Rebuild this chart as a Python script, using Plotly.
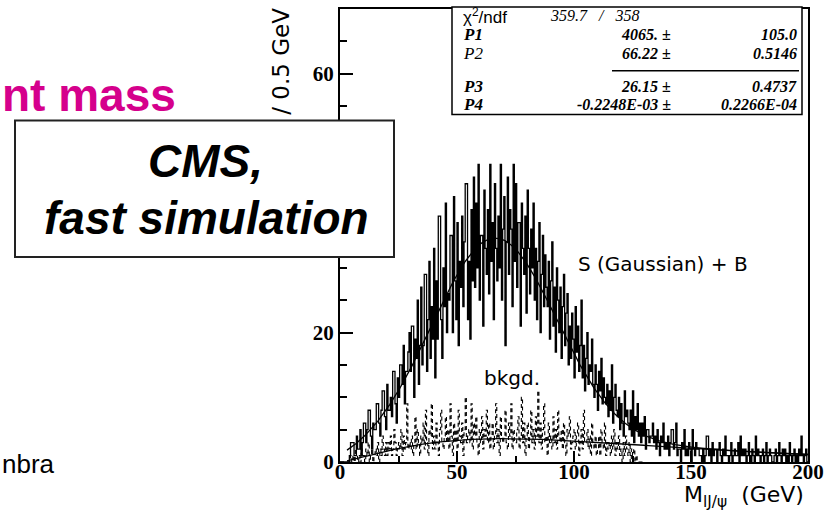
import numpy as np
import plotly.graph_objects as go

# ---------------- data ----------------
BIN_WIDTH = 0.5          # GeV per bin
X_RANGE = [0.0, 200.0]
Y_RANGE = [0.0, 70.0]

x_tick_vals = [0, 50, 100, 150, 200]
y_tick_vals = [0, 20, 60]   # the 40 mark sits under the caption box

# Signal (Gaussian) + background, entries per 0.5 GeV bin, 0 - 200 GeV
sb_counts = [
    0, 0, 0, 0, 0, 0, 0, 0, 1, 3,
    3, 3, 1, 1, 4, 2, 2, 5, 1, 3,
    6, 6, 3, 5, 8, 8, 4, 2, 6, 5,
    5, 9, 9, 6, 4, 8, 11, 11, 7, 5,
    12, 8, 8, 10, 7, 14, 14, 9, 6, 13,
    10, 15, 15, 12, 18, 9, 14, 14, 17, 20,
    14, 21, 21, 10, 19, 16, 25, 12, 18, 27,
    15, 18, 29, 29, 14, 22, 31, 16, 24, 19,
    33, 13, 28, 19, 38, 38, 22, 16, 30, 24,
    40, 20, 26, 25, 35, 35, 20, 41, 28, 22,
    37, 18, 31, 27, 38, 24, 34, 43, 43, 22,
    31, 19, 39, 28, 44, 27, 40, 30, 46, 25,
    35, 35, 21, 42, 33, 29, 39, 26, 46, 31,
    37, 22, 43, 33, 28, 38, 30, 46, 25, 36,
    41, 18, 34, 44, 29, 39, 36, 24, 46, 31,
    43, 27, 37, 37, 21, 40, 33, 29, 38, 23,
    42, 33, 26, 36, 30, 40, 25, 33, 22, 31,
    37, 20, 29, 35, 24, 32, 27, 24, 31, 19,
    28, 34, 21, 27, 17, 30, 25, 20, 27, 16,
    24, 29, 18, 23, 26, 15, 21, 16, 23, 19,
    13, 24, 17, 21, 14, 18, 25, 13, 18, 11,
    16, 20, 12, 15, 14, 19, 12, 10, 15, 12,
    8, 14, 11, 16, 9, 13, 10, 9, 12, 7,
    11, 8, 15, 6, 10, 12, 8, 7, 10, 5,
    9, 6, 4, 11, 7, 8, 6, 5, 8, 4,
    11, 3, 7, 5, 9, 4, 6, 3, 6, 4,
    7, 2, 5, 5, 3, 4, 4, 6, 3, 4,
    2, 5, 3, 1, 4, 3, 6, 2, 3, 2,
    4, 1, 3, 5, 5, 2, 3, 6, 1, 2,
    2, 0, 3, 2, 5, 1, 2, 1, 3, 2,
    0, 5, 2, 1, 3, 2, 2, 1, 1, 0,
    2, 0, 1, 4, 4, 1, 2, 0, 3, 1,
    2, 2, 0, 2, 3, 1, 0, 2, 1, 4,
    1, 1, 0, 1, 3, 0, 1, 2, 1, 1,
    3, 0, 4, 1, 2, 1, 2, 0, 1, 3,
    1, 0, 2, 1, 0, 4, 1, 2, 1, 0,
    1, 2, 0, 1, 3, 0, 1, 2, 1, 0,
    0, 1, 2, 0, 1, 3, 1, 0, 2, 1,
    2, 0, 1, 0, 3, 1, 0, 1, 2, 0,
    1, 0, 2, 1, 4, 1, 0, 1, 2, 0,
]

# Background-only sample, entries per 0.5 GeV bin, 0 - 130 GeV
bkgd_counts = [
    0, 0, 0, 0, 0, 0, 0, 0, 0, 1,
    0, 1, 0, 2, 1, 0, 1, 0, 2, 1,
    1, 0, 2, 1, 3, 0, 1, 2, 0, 1,
    2, 1, 3, 0, 2, 1, 4, 2, 1, 3,
    1, 3, 2, 4, 1, 2, 5, 3, 1, 2,
    3, 2, 5, 1, 4, 2, 3, 9, 2, 3,
    2, 4, 1, 3, 7, 2, 5, 3, 1, 4,
    3, 6, 2, 8, 3, 1, 5, 4, 9, 2,
    4, 2, 6, 3, 1, 5, 8, 3, 2, 4,
    7, 3, 5, 2, 9, 4, 1, 6, 3, 5,
    2, 8, 4, 3, 6, 1, 5, 10, 3, 4,
    5, 3, 9, 2, 6, 4, 7, 3, 1, 5,
    3, 7, 2, 5, 4, 8, 3, 6, 2, 4,
    6, 2, 4, 9, 3, 5, 1, 7, 4, 3,
    4, 8, 3, 2, 6, 4, 9, 2, 5, 3,
    3, 5, 7, 2, 4, 10, 3, 6, 1, 4,
    6, 2, 4, 8, 3, 5, 2, 7, 4, 11,
    3, 6, 2, 5, 9, 3, 4, 1, 6, 3,
    4, 2, 7, 3, 5, 2, 8, 4, 3, 5,
    2, 6, 3, 1, 5, 4, 7, 2, 3, 4,
    5, 2, 4, 6, 1, 3, 5, 2, 8, 3,
    3, 5, 2, 4, 1, 6, 3, 2, 4, 1,
    2, 4, 1, 5, 3, 2, 6, 1, 3, 2,
    3, 1, 4, 2, 5, 1, 3, 2, 4, 1,
    2, 0, 3, 1, 4, 2, 1, 3, 0, 2,
    1, 2, 0, 1, 0, 0, 0, 0, 0, 0,
]

# Fit results: P1 = normalisation, P2 = mean, P3 = sigma, P4 = background term
fit_names = ["P1", "P2", "P3", "P4"]
fit_values = [4065.0, 66.22, 26.15, -0.2248e-03]
fit_value_labels = ["4065.", "66.22", "26.15", "-0.2248E-03"]
fit_error_labels = ["105.0", "0.5146", "0.4737", "0.2266E-04"]
chi2_label = "359.7"
ndf_label = "358"

# Background shape: peak height, peak position (GeV), power
bkg_shape = [3.6, 70.0, 1.4]
FIT_X_RANGE = [3.0, 200.0]

# ---------------- helpers ----------------
# plot area in pixels inside the 832x512 page
PL, PR, PT, PB = 340, 808, 7, 462


def px(x):
    return (x - PL) / (PR - PL)


def py(y):
    return (PB - y) / (PB - PT)


def step_xy(counts, x0, width):
    edges = x0 + width * np.arange(len(counts) + 1)
    return edges, list(counts) + [counts[-1]]


def background(x):
    h, xm, k = bkg_shape
    r = np.asarray(x) / xm
    return h * r ** k * np.exp(k * (1.0 - r))


def gaussian(x):
    p1, p2, p3 = fit_values[:3]
    amp = p1 * BIN_WIDTH / (np.sqrt(2 * np.pi) * p3)
    return amp * np.exp(-0.5 * ((np.asarray(x) - p2) / p3) ** 2)


# ---------------- traces ----------------
fig = go.Figure()

bx, by = step_xy(bkgd_counts, X_RANGE[0], BIN_WIDTH)
fig.add_trace(go.Scatter(x=bx, y=by, mode="lines",
                         line=dict(shape="hv", color="black", width=1.1, dash="4px,3px"),
                         hoverinfo="skip"))

xf = np.arange(FIT_X_RANGE[0], FIT_X_RANGE[1] + 0.01, 0.25)
fig.add_trace(go.Scatter(x=xf, y=background(xf), mode="lines",
                         line=dict(color="black", width=1.3), hoverinfo="skip"))

sx, sy = step_xy(sb_counts, X_RANGE[0], BIN_WIDTH)
fig.add_trace(go.Scatter(x=sx, y=sy, mode="lines",
                         line=dict(shape="hv", color="black", width=1.3),
                         hoverinfo="skip"))

fig.add_trace(go.Scatter(x=xf, y=gaussian(xf) + background(xf), mode="lines",
                         line=dict(color="black", width=1.3), hoverinfo="skip"))

# ---------------- axes ----------------
tick_font = dict(family="Liberation Serif", size=21, color="black", weight="bold")
fig.update_xaxes(range=X_RANGE, tickvals=x_tick_vals,
                 ticks="inside", ticklen=11, tickwidth=1.5, tickcolor="black",
                 ticklabelstandoff=-10,
                 minor=dict(dtick=25, tick0=0, ticks="inside", ticklen=6,
                            tickwidth=1.5, tickcolor="black"),
                 showline=True, linecolor="black", linewidth=2, mirror=True,
                 showgrid=False, zeroline=False, tickfont=tick_font)
fig.update_yaxes(range=Y_RANGE, tickvals=y_tick_vals,
                 ticks="inside", ticklen=13, tickwidth=1.5, tickcolor="black",
                 minor=dict(dtick=5, tick0=0, ticks="inside", ticklen=7,
                            tickwidth=1.5, tickcolor="black"),
                 showline=True, linecolor="black", linewidth=2, mirror=True,
                 showgrid=False, zeroline=False, tickfont=tick_font)

# ---------------- boxes ----------------
shapes = [
    # fit statistics box
    dict(type="rect", xref="paper", yref="paper", layer="above",
         x0=px(452), x1=px(802), y0=py(113), y1=py(5),
         fillcolor="white", line=dict(color="black", width=1.5)),
    dict(type="line", xref="paper", yref="paper", layer="above",
         x0=px(612), x1=px(799), y0=py(69), y1=py(69),
         line=dict(color="black", width=1.5)),
    # CMS caption box
    dict(type="rect", xref="paper", yref="paper", layer="above",
         x0=px(15), x1=px(394), y0=py(256), y1=py(119),
         fillcolor="white", line=dict(color="#222222", width=2)),
]

serif_it = dict(family="Liberation Serif", size=16, color="black", style="italic")
serif_bi = dict(family="Liberation Serif", size=16, color="black", style="italic",
                weight="bold")
ann = []


def label(text, x, y, xanchor="left", font=None, **kw):
    ann.append(dict(text=text, x=px(x), y=py(y), xref="paper", yref="paper",
                    xanchor=xanchor, yanchor="middle", showarrow=False,
                    font=font, **kw))


row_y = [14, 33, 51.5, 84.5, 103]
label("χ<sup>2</sup>/ndf", 461, row_y[0],
      font=dict(family="Liberation Sans", size=17, color="black"))
label(chi2_label + "   /   " + ndf_label, 548, row_y[0], font=serif_it)
for i, name in enumerate(fit_names):
    bold = name != "P2"
    label(name, 461, row_y[i + 1],
          font=dict(family="Liberation Serif", size=17, color="black",
                    style="italic", weight="bold" if bold else "normal"))
    label(fit_value_labels[i] + " ±", 673, row_y[i + 1], xanchor="right", font=serif_bi)
    label(fit_error_labels[i], 799, row_y[i + 1], xanchor="right", font=serif_bi)

# caption text
cap_font = dict(family="Liberation Sans", size=46, color="black",
                style="italic", weight="bold")
label("CMS,", 205, 160, xanchor="center", font=cap_font)
label("fast simulation", 206, 217, xanchor="center", font=cap_font)

# page text around the plot
label("nt mass", 178, 93, xanchor="right",
      font=dict(family="Liberation Sans", size=46, color="#D5008C", weight="bold"))
label("nbra", 0, 464,
      font=dict(family="Liberation Sans", size=26, color="black"))

# axis titles and in-plot labels
sans = dict(family="DejaVu Sans", size=20, color="black")
label("/ 0.5 GeV", 281, 60, xanchor="center",
      font=dict(family="DejaVu Sans", size=23, color="black"), textangle=-90)
label("M<sub>lJ/ψ</sub>  (GeV)", 806, 497, xanchor="right",
      font=dict(family="DejaVu Sans", size=22, color="black"))
label("S (Gaussian) + B", 576, 263, font=sans)
label("bkgd.", 482, 378, font=sans)

fig.update_layout(width=832, height=512,
                  margin=dict(l=PL, r=832 - PR, t=PT, b=512 - PB),
                  paper_bgcolor="white", plot_bgcolor="white",
                  showlegend=False, shapes=shapes, annotations=ann)

fig.write_html("out.html")
